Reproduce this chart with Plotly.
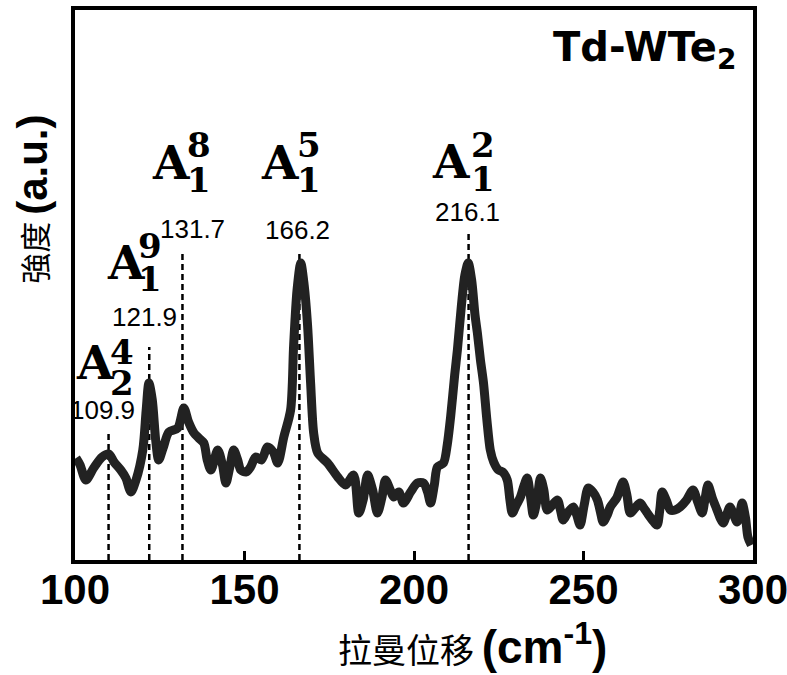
import plotly.graph_objects as go

# ---------------- data ----------------
wavenumber = [100.3, 101.5, 103.2, 105.5, 108.0, 110.0, 111.5, 113.5, 115.0, 116.5,
              118.0, 120.0, 121.0, 121.8, 122.8, 123.8, 124.7, 126.0, 127.7, 130.3,
              132.1, 133.5, 135.1, 136.5, 138.0, 139.0, 140.1, 142.1, 143.5, 144.5,
              145.8, 146.8, 148.0, 148.9, 150.5, 151.8, 153.3, 155.0, 156.8, 158.5,
              159.8, 161.6, 163.6, 164.5, 165.5, 166.6, 167.6, 168.6, 169.5, 170.4,
              171.6, 174.5, 177.5, 179.8, 182.2, 183.7, 185.0, 186.3, 187.8, 189.2,
              190.5, 191.6, 193.0, 194.0, 195.5, 196.9, 199.0, 201.0, 202.8, 204.0,
              204.9, 206.0, 206.9, 208.7, 209.8, 210.8, 212.0, 212.8, 214.0, 215.0,
              216.0, 217.0, 218.0, 218.7, 219.6, 220.5, 221.5, 222.5, 223.5, 224.9,
              226.2, 227.5, 228.3, 229.0, 230.2, 231.4, 232.5, 233.4, 234.3, 235.2,
              236.3, 237.3, 238.3, 239.3, 240.8, 242.3, 243.2, 244.0, 245.5, 247.0,
              248.0, 249.0, 250.2, 251.4, 252.8, 254.1, 255.0, 255.8, 257.0, 257.9,
              259.8, 261.7, 262.8, 263.8, 265.2, 266.7, 267.8, 268.8, 270.3, 271.7,
              272.5, 273.2, 274.4, 275.6, 277.0, 278.5, 280.4, 282.3, 283.7, 285.0,
              285.8, 286.7, 288.0, 289.4, 290.3, 291.2, 292.2, 293.2, 294.3, 295.3,
              296.0, 296.8, 297.8, 298.5, 299.5]
intensity = [102, 95, 80, 92, 103, 106, 98, 90, 82, 68,
             80, 110, 150, 177, 160, 120, 100, 112, 128, 132,
             152, 138, 127, 122, 117, 100, 90, 110, 95, 77,
             95, 110, 100, 90, 88, 93, 103, 100, 113, 108,
             97, 123, 150, 215, 270, 297, 275, 235, 177, 127,
             107, 97, 83, 75, 85, 47, 60, 85, 70, 47,
             62, 80, 70, 63, 68, 57, 68, 77, 77, 68,
             57, 75, 93, 97, 115, 143, 185, 210, 255, 285,
             297, 280, 245, 227, 200, 177, 140, 110, 98, 90,
             88, 80, 60, 47, 55, 63, 75, 82, 65, 45,
             60, 82, 70, 50, 55, 60, 50, 40, 48, 53,
             45, 35, 55, 72, 68, 60, 48, 38, 45, 53,
             62, 78, 65, 47, 52, 57, 52, 47, 40, 35,
             50, 68, 60, 50, 50, 53, 60, 70, 58, 47,
             60, 75, 62, 50, 42, 37, 45, 53, 45, 38,
             45, 57, 42, 23, 15]

peak_positions = [109.9, 121.9, 131.7, 166.2, 216.1]
peak_labels = ["109.9", "121.9", "131.7", "166.2", "216.1"]
mode_sup = ["4", "9", "8", "5", "2"]
mode_sub = ["2", "1", "1", "1", "1"]
marker_tops = [130, 213, 308, 310, 328]

x_ticks = [100, 150, 200, 250, 300]
x_title = "拉曼位移"
y_title = "強度"
sample_name = "Td-WTe"

# ---------------- figure ----------------
fig = go.Figure()

# dashed peak markers
dx, dy = [], []
for p, t in zip(peak_positions, marker_tops):
    dx += [p, p, None]
    dy += [0, t, None]
fig.add_trace(go.Scatter(x=dx, y=dy, mode="lines",
                         line=dict(color="black", width=2.5, dash="6px,4px"),
                         hoverinfo="skip", showlegend=False))

fig.add_trace(go.Scatter(x=wavenumber, y=intensity, mode="lines",
                         line=dict(color="#222222", width=9, shape="spline", smoothing=0.8),
                         showlegend=False))

# label layout (offsets in px relative to each peak position)
num_dx = [-6, -5, 10, -2, -1]
num_y = [150, 243, 331, 330, 348]
a_dx = [-14, -23, -11, -19, -18]
a_y = [198, 298, 398, 398, 399]
s_dx = [13, 1, 17, 10, 14]
sup_y = [208, 314, 415, 415, 415]
sub_y = [177, 281, 380, 380, 381]

annotations = []
for i, p in enumerate(peak_positions):
    annotations.append(dict(x=p, y=num_y[i], xref="x", yref="y", text=peak_labels[i],
                            xshift=num_dx[i], showarrow=False,
                            font=dict(family="Liberation Sans, Arial", size=26, color="black")))
    annotations.append(dict(x=p, y=a_y[i], xref="x", yref="y", text="<b>A</b>",
                            xshift=a_dx[i], showarrow=False,
                            font=dict(family="DejaVu Serif", size=47, color="black")))
    annotations.append(dict(x=p, y=sup_y[i], xref="x", yref="y", text="<b>%s</b>" % mode_sup[i],
                            xshift=s_dx[i], showarrow=False,
                            font=dict(family="DejaVu Serif", size=34, color="black")))
    annotations.append(dict(x=p, y=sub_y[i], xref="x", yref="y", text="<b>%s</b>" % mode_sub[i],
                            xshift=s_dx[i], showarrow=False,
                            font=dict(family="DejaVu Serif", size=34, color="black")))

annotations.append(dict(x=1, y=1, xref="paper", yref="paper", xanchor="right", yanchor="top",
                        xshift=-15, yshift=-12, showarrow=False,
                        text="<b>%s<sub>2</sub></b>" % sample_name,
                        font=dict(family="DejaVu Sans", size=40, color="black")))

annotations.append(dict(x=(472 - 75) / (753 - 75), y=0, xref="paper", yref="paper",
                        xanchor="center", yanchor="middle",
                        yshift=-84, showarrow=False,
                        text=x_title + ' <span style="font-family:Liberation Sans;font-size:46px"><b>(cm<sup>-1</sup>)</b></span>',
                        font=dict(family="Noto Sans CJK TC", size=34, color="black")))

annotations.append(dict(x=0, y=0.655, xref="paper", yref="paper", xanchor="center", yanchor="middle",
                        xshift=-42, textangle=-90, showarrow=False,
                        text=y_title + ' <span style="font-family:Liberation Sans;font-size:42px"><b>(a.u.)</b></span>',
                        font=dict(family="Noto Sans CJK TC", size=31, color="black")))

fig.update_layout(
    width=787, height=675,
    margin=dict(l=75, r=34, t=10, b=115),
    paper_bgcolor="white", plot_bgcolor="white",
    annotations=annotations,
    showlegend=False,
)
fig.update_xaxes(range=[100, 300], tickvals=x_ticks, ticktext=["<b>%d</b>" % v for v in x_ticks],
                 showline=True, linewidth=4, linecolor="black", mirror=True,
                 ticks="inside", ticklen=9, tickwidth=3, tickcolor="black",
                 showgrid=False, zeroline=False, ticklabeloverflow="allow",
                 ticklabelstandoff=-10, automargin=False,
                 tickfont=dict(family="Liberation Sans, Arial", size=42, color="black"))
fig.update_yaxes(range=[0, 550], showline=True, linewidth=4, linecolor="black", mirror=True,
                 showticklabels=False, ticks="", showgrid=False, zeroline=False, automargin=False)

fig.write_html("out.html")
